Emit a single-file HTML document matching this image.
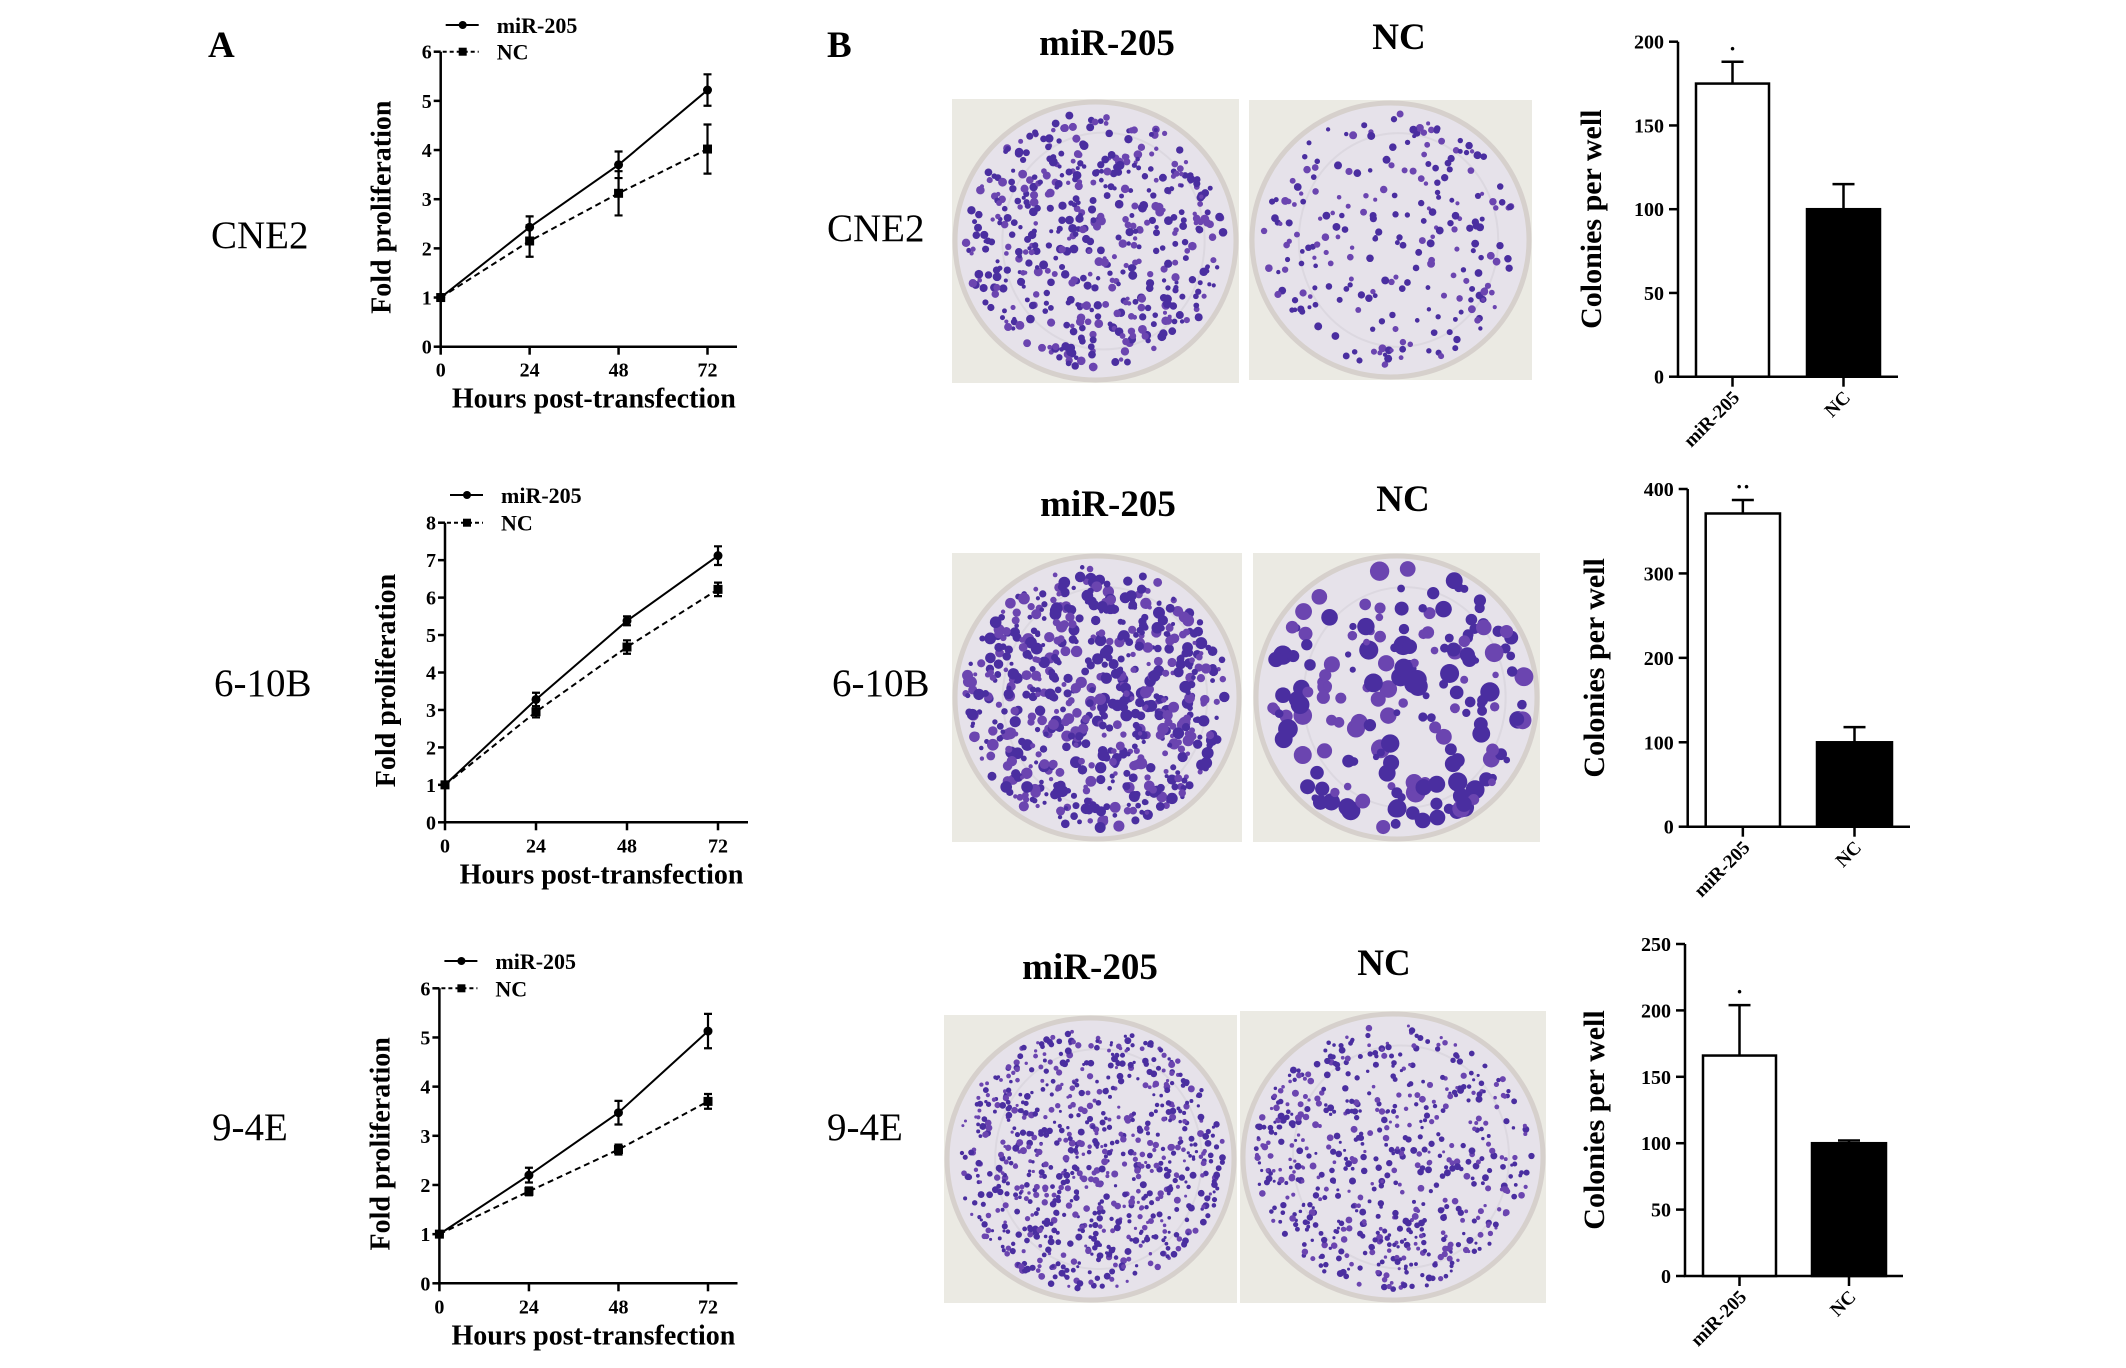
<!DOCTYPE html>
<html><head><meta charset="utf-8">
<style>
html,body{margin:0;padding:0;background:#fff;}
body{width:2126px;height:1368px;overflow:hidden;position:relative;font-family:"Liberation Serif",serif;}
svg{position:absolute;left:0;top:0;}
</style></head>
<body>
<svg id="fig" width="2126" height="1368" viewBox="0 0 2126 1368" xmlns="http://www.w3.org/2000/svg">
<g id="photos"></g>
<g id="charts"></g>
<g font-family="Liberation Serif, serif" fill="#000">
<text x="208" y="57" font-size="37" font-weight="bold">A</text>
<text x="827" y="57" font-size="37" font-weight="bold">B</text>
<text x="211" y="248" font-size="39">CNE2</text>
<text x="214" y="696" font-size="39">6-10B</text>
<text x="212" y="1140" font-size="39">9-4E</text>
<text x="827" y="241" font-size="39">CNE2</text>
<text x="832" y="696" font-size="39">6-10B</text>
<text x="827" y="1140" font-size="39">9-4E</text>
<g font-size="37" font-weight="bold" text-anchor="middle">
<text x="1107" y="55">miR-205</text>
<text x="1399" y="49">NC</text>
<text x="1108" y="516">miR-205</text>
<text x="1403" y="511">NC</text>
<text x="1090" y="979">miR-205</text>
<text x="1384" y="975">NC</text>
</g>
</g>
</svg>
<script>
// ---- Line chart data ----
const hours = [0, 24, 48, 72];
const cne2Mir = [1, 2.43, 3.7, 5.22];
const cne2MirErr = [0, 0.22, 0.27, 0.32];
const cne2Nc = [1, 2.15, 3.12, 4.02];
const cne2NcErr = [0, 0.32, 0.45, 0.5];
const b610Mir = [1, 3.28, 5.38, 7.12];
const b610MirErr = [0, 0.18, 0.12, 0.25];
const b610Nc = [1, 2.95, 4.68, 6.22];
const b610NcErr = [0, 0.15, 0.18, 0.18];
const e94Mir = [1, 2.2, 3.47, 5.13];
const e94MirErr = [0, 0.15, 0.24, 0.35];
const e94Nc = [1, 1.87, 2.72, 3.7];
const e94NcErr = [0, 0.08, 0.1, 0.15];
const yTicks6 = [0, 1, 2, 3, 4, 5, 6];
const yTicks8 = [0, 1, 2, 3, 4, 5, 6, 7, 8];
// ---- Bar chart data ----
const barCategories = ['miR-205', 'NC'];
const cne2Bars = [175, 100];
const cne2BarErr = [13, 15];
const b610Bars = [371, 100];
const b610BarErr = [16, 18];
const e94Bars = [166, 100];
const e94BarErr = [38, 2];
const barTicks200 = [0, 50, 100, 150, 200];
const barTicks400 = [0, 100, 200, 300, 400];
const barTicks250 = [0, 50, 100, 150, 200, 250];
const sigMarks = ['*', '**', '*'];

const NS = 'http://www.w3.org/2000/svg';
function mk(tag, attrs, parent) {
  const e = document.createElementNS(NS, tag);
  for (const k in attrs) e.setAttribute(k, attrs[k]);
  parent.appendChild(e);
  return e;
}
const charts = document.getElementById('charts');
const FF = 'Liberation Serif, serif';

function lineChart(name, L, ticks, mir, mirErr, nc, ncErr) {
  const g = mk('g', {}, charts);
  
  
  const ymax = ticks[ticks.length - 1];
  const xs = h => L.x0 + (L.x72 - L.x0) * h / 72;
  const ys = v => L.y0 - (L.y0 - L.yTop) * v / ymax;
  const ax = mk('path', {d: `M${L.x0} ${L.yTop} V${L.y0} H${L.xEnd}`, stroke: '#000', 'stroke-width': 2.5, fill: 'none'}, g);
  
  
  ticks.forEach(t => {
    mk('line', {x1: L.x0 - 7, x2: L.x0, y1: ys(t), y2: ys(t), stroke: '#000', 'stroke-width': 2.5}, g);
    const tx = mk('text', {x: L.x0 - 9, y: ys(t) + 7, 'font-size': 20, 'font-weight': 'bold', 'text-anchor': 'end', 'font-family': FF}, g);
    tx.textContent = t;
    
    
  });
  hours.forEach(h => {
    mk('line', {x1: xs(h), x2: xs(h), y1: L.y0, y2: L.y0 + 8, stroke: '#000', 'stroke-width': 2.5}, g);
    const tx = mk('text', {x: xs(h), y: L.y0 + 30, 'font-size': 20, 'font-weight': 'bold', 'text-anchor': 'middle', 'font-family': FF}, g);
    tx.textContent = h;
    
    
  });
  [[mir, mirErr, null, 'circle'], [nc, ncErr, '6 4', 'square']].forEach(([vals, errs, dash, shape], si) => {
    const d = vals.map((v, i) => (i ? 'L' : 'M') + xs(hours[i]) + ' ' + ys(v)).join(' ');
    const p = mk('path', {d, stroke: '#000', 'stroke-width': 2, fill: 'none'}, g);
    if (dash) p.setAttribute('stroke-dasharray', dash);
    
    
    vals.forEach((v, i) => {
      const x = xs(hours[i]), y = ys(v);
      if (errs[i] > 0) {
        const e = mk('path', {d: `M${x} ${ys(v - errs[i])} V${ys(v + errs[i])} M${x - 4} ${ys(v - errs[i])} h8 M${x - 4} ${ys(v + errs[i])} h8`, stroke: '#000', 'stroke-width': 2.2, fill: 'none'}, g);
        
        
      }
      const m = shape === 'circle' ? mk('circle', {cx: x, cy: y, r: 4.5, fill: '#000'}, g) : mk('rect', {x: x - 4.5, y: y - 4.5, width: 9, height: 9, fill: '#000'}, g);
      
      
    });
  });
  const lg = mk('g', {}, g);
  
  
  mk('line', {x1: L.x0 + 5, x2: L.x0 + 38, y1: L.legY, y2: L.legY, stroke: '#000', 'stroke-width': 2}, lg);
  mk('circle', {cx: L.x0 + 22, cy: L.legY, r: 4, fill: '#000'}, lg);
  const t1 = mk('text', {x: L.x0 + 56, y: L.legY + 8, 'font-size': 22, 'font-weight': 'bold', 'font-family': FF}, lg);
  t1.textContent = 'miR-205';
  
  
  mk('line', {x1: L.x0 + 2, x2: L.x0 + 38, y1: L.yTop, y2: L.yTop, stroke: '#000', 'stroke-width': 2, 'stroke-dasharray': '4 3'}, lg);
  mk('rect', {x: L.x0 + 18, y: L.yTop - 4, width: 8, height: 8, fill: '#000'}, lg);
  const t2 = mk('text', {x: L.x0 + 56, y: L.yTop + 8, 'font-size': 22, 'font-weight': 'bold', 'font-family': FF}, lg);
  t2.textContent = 'NC';
  
  
  const yl = mk('text', {transform: `translate(${L.x0 - 50},${(L.yTop + L.y0) / 2 + 8}) rotate(-90)`, 'font-size': 28, 'font-weight': 'bold', 'text-anchor': 'middle', 'font-family': FF}, g);
  yl.textContent = 'Fold proliferation';
  
  
  const xl = mk('text', {x: (L.x0 + L.xEnd) / 2 + 5, y: L.y0 + 61, 'font-size': 28, 'font-weight': 'bold', 'text-anchor': 'middle', 'font-family': FF}, g);
  xl.textContent = 'Hours post-transfection';
  
  
}

function barChart(name, B, ticks, vals, errs, sig) {
  const g = mk('g', {}, charts);
  
  
  const ymax = ticks[ticks.length - 1];
  const ys = v => B.y0 - (B.y0 - B.yTop) * v / ymax;
  const ax = mk('path', {d: `M${B.x0} ${B.yTop} V${B.y0} H${B.xEnd}`, stroke: '#000', 'stroke-width': 2.5, fill: 'none'}, g);
  
  
  ticks.forEach(t => {
    mk('line', {x1: B.x0 - 9, x2: B.x0, y1: ys(t), y2: ys(t), stroke: '#000', 'stroke-width': 2.5}, g);
    const tx = mk('text', {x: B.x0 - 14, y: ys(t) + 7, 'font-size': 20, 'font-weight': 'bold', 'text-anchor': 'end', 'font-family': FF}, g);
    tx.textContent = t;
    
    
  });
  barCategories.forEach((c, i) => {
    const [l, r] = B.bars[i];
    const cx = (l + r) / 2;
    const v = vals[i], e = errs[i];
    mk('path', {d: `M${cx} ${ys(v)} V${ys(v + e)} M${cx - 11} ${ys(v + e)} h22`, stroke: '#000', 'stroke-width': 2.5, fill: 'none'}, g);
    const rc = mk('rect', {x: l, y: ys(v), width: r - l, height: B.y0 - ys(v), fill: i ? '#000' : '#fff', stroke: '#000', 'stroke-width': 2.5}, g);
    
    
    mk('line', {x1: cx, x2: cx, y1: B.y0, y2: B.y0 + 10, stroke: '#000', 'stroke-width': 2.5}, g);
    const tx = mk('text', {transform: `translate(${cx + 8},${B.y0 + 22}) rotate(-45)`, 'font-size': 19, 'font-weight': 'bold', 'text-anchor': 'end', 'font-family': FF}, g);
    tx.textContent = c;
    
    
  });
  const st = mk('text', {x: (B.bars[0][0] + B.bars[0][1]) / 2, y: ys(vals[0] + errs[0]) - 6, 'font-size': 22, 'font-weight': 'bold', 'text-anchor': 'middle', 'font-family': FF}, g);
  st.textContent = sig === '*' ? '·' : '··';
  
  
  const yl = mk('text', {transform: `translate(${B.labX},${(B.yTop + B.y0) / 2 + 10}) rotate(-90)`, 'font-size': 30, 'font-weight': 'bold', 'text-anchor': 'middle', 'font-family': FF}, g);
  yl.textContent = 'Colonies per well';
  
  
}

lineChart('line-chart-cne2', {x0: 440.7, x72: 707.5, xEnd: 737, y0: 346.7, yTop: 51.7, legY: 25}, yTicks6, cne2Mir, cne2MirErr, cne2Nc, cne2NcErr);
lineChart('line-chart-6-10b', {x0: 445, x72: 718, xEnd: 748, y0: 822.3, yTop: 522.7, legY: 495}, yTicks8, b610Mir, b610MirErr, b610Nc, b610NcErr);
lineChart('line-chart-9-4e', {x0: 439.4, x72: 708, xEnd: 737.5, y0: 1283.3, yTop: 988.3, legY: 961}, yTicks6, e94Mir, e94MirErr, e94Nc, e94NcErr);

barChart('bar-chart-cne2', {x0: 1678, xEnd: 1898, y0: 376.7, yTop: 41.7, bars: [[1696, 1769], [1807, 1880]], labX: 1601}, barTicks200, cne2Bars, cne2BarErr, sigMarks[0]);
barChart('bar-chart-6-10b', {x0: 1687.7, xEnd: 1910, y0: 826.7, yTop: 489, bars: [[1705.7, 1780], [1817, 1892]], labX: 1604}, barTicks400, b610Bars, b610BarErr, sigMarks[1]);
barChart('bar-chart-9-4e', {x0: 1685, xEnd: 1903, y0: 1276, yTop: 944, bars: [[1703, 1776], [1812, 1886]], labX: 1604}, barTicks250, e94Bars, e94BarErr, sigMarks[2]);

// ---- photos (decorative texture, deterministic) ----
const photos = document.getElementById('photos');
let seed = 12345;
function rnd() { seed = (seed * 1103515245 + 12345) % 2147483648; return seed / 2147483648; }
function dish(name, x, y, w, h, n, rmin, rmax) {
  const g = mk('g', {}, photos);
  
  
  mk('rect', {x, y, width: w, height: h, fill: '#ebeae3'}, g);
  const cx = x + w / 2, cy = y + h / 2, RX = w / 2 - 3, RY = h / 2 - 3;
  mk('ellipse', {cx, cy, rx: RX, ry: RY, fill: '#e6e2ea', stroke: '#d6d0cc', 'stroke-width': 5}, g);
  mk('ellipse', {cx: cx + 8, cy, rx: RX * 0.72, ry: RY * 0.78, fill: 'none', stroke: '#dcd8e0', 'stroke-width': 2}, g);
  for (let i = 0; i < n; i++) {
    const a = rnd() * Math.PI * 2, rr = Math.sqrt(rnd()) * 0.96;
    mk('circle', {cx: cx + Math.cos(a) * rr * (RX - 5), cy: cy + Math.sin(a) * rr * (RY - 5), r: rmin + rnd() * (rmax - rmin), fill: rnd() < 0.6 ? '#4a2ea0' : '#6b45b0'}, g);
  }
}
dish('photo-cne2-mir205', 952, 99, 287, 284, 520, 2, 4.5);
dish('photo-cne2-nc', 1249, 100, 283, 280, 240, 2, 4);
dish('photo-6-10b-mir205', 952, 553, 290, 289, 650, 2, 6);
dish('photo-6-10b-nc', 1253, 553, 287, 289, 190, 3, 10);
dish('photo-9-4e-mir205', 944, 1015, 293, 288, 800, 1.5, 3.5);
dish('photo-9-4e-nc', 1240, 1011, 306, 292, 620, 1.5, 3.5);
</script>
</body></html>
